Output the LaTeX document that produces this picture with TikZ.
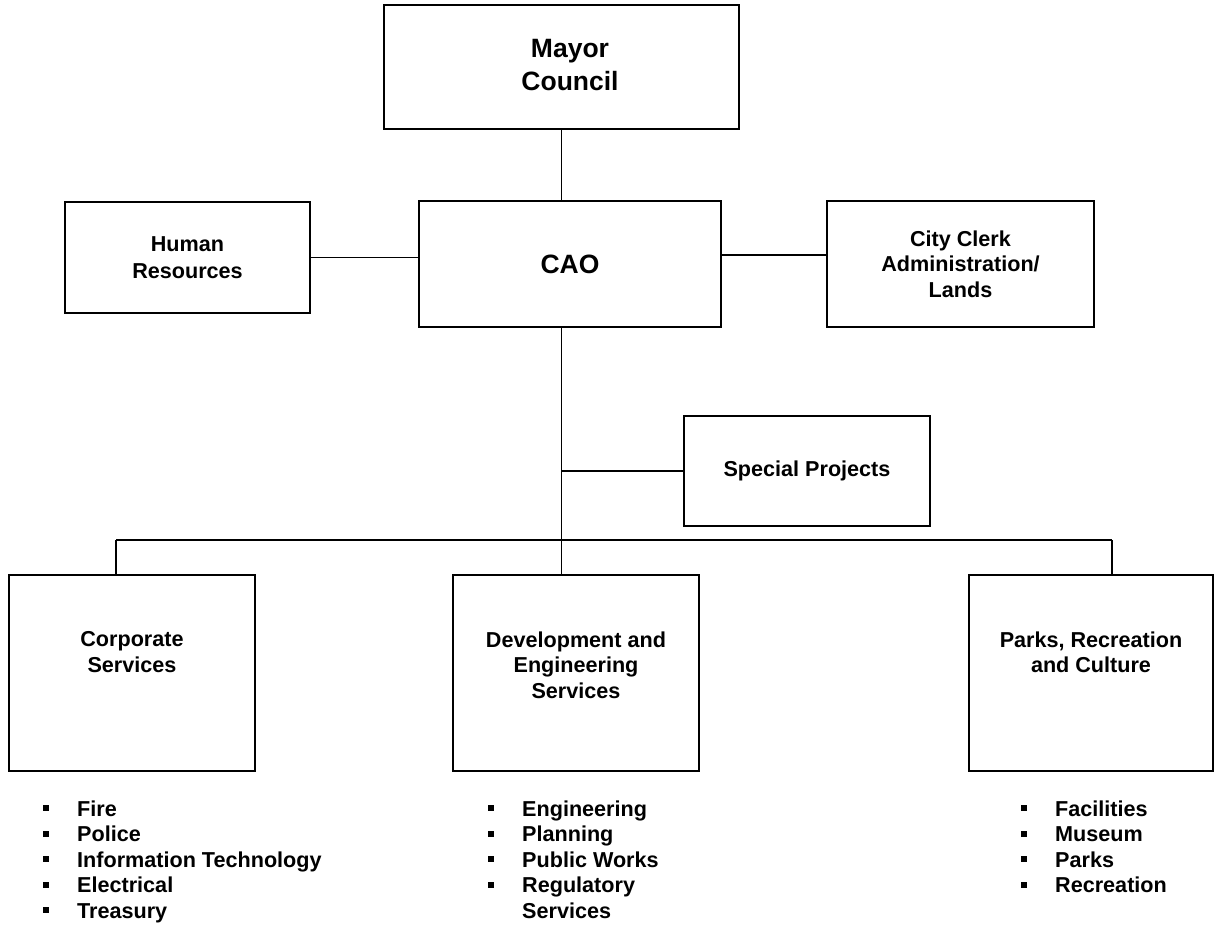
\documentclass[tikz,border=0pt]{standalone}
\usepackage{fontspec}
\setmainfont{Liberation Sans}
\usetikzlibrary{positioning}

\tikzset{
    orgbox/.style={draw, line width=1.4pt, inner sep=0pt, align=center,
        font=\bfseries\fontsize{21.6}{25.5}\selectfont},
    bigtext/.style={font=\bfseries\fontsize{26.5}{33}\selectfont},
    boxtext/.style={inner sep=0pt, align=center,
        font=\bfseries\fontsize{21.6}{25.5}\selectfont},
    sublist/.style={inner sep=0pt, anchor=base west,
        font=\bfseries\fontsize{21.6}{25.5}\selectfont},
    link/.style={line width=1.4pt}
}
\newcommand{\sqbullet}{\rule[4.7pt]{6pt}{6pt}}

\begin{document}
\begin{tikzpicture}[x=1pt, y=-1pt]

    \useasboundingbox (0,0) rectangle (1214,924);

    % ==========================================
    % TOP: Mayor, CAO and staff boxes
    % ==========================================
    \node[orgbox, minimum width=355pt, minimum height=124pt] (mayor) at (561.5,67) {};
    \node[boxtext, bigtext] (mayortext) at (570,65) {Mayor\\Council};
    \node[orgbox, bigtext, minimum width=302pt, minimum height=126pt] (cao) at (570,264) {CAO};
    \node[orgbox, minimum width=245pt, minimum height=111pt] (hr) at (187.5,257.5) {Human\\[1.5pt]Resources};
    \node[orgbox, minimum width=267pt, minimum height=126pt] (clerk) at (960.5,264) {City Clerk\\Administration/\\Lands};
    \node[orgbox, minimum width=246pt, minimum height=110pt] (special) at (807,471) {Special Projects};

    % Links to the CAO
    \draw[link] (mayor.south) -- (mayor.south |- cao.north);
    \draw[link] (hr.east) -- (hr.east -| cao.west);
    \draw[link] ([yshift=9pt]clerk.west) -- ([yshift=9pt]clerk.west -| cao.east);

    % Trunk and branch line
    \coordinate (junction) at (561.5,540);
    \coordinate (leftend) at (116,540);
    \coordinate (rightend) at (1112,540);

    \draw[link] (mayor.south |- cao.south) -- (junction);
    \draw[link] (special.west) -- (special.west -| junction);
    \draw[link] (leftend) -- (rightend);

    % ==========================================
    % BOTTOM: the three departments
    % ==========================================
    \node[orgbox, minimum width=246pt, minimum height=196pt] (corp) at (132,673) {};
    \node[orgbox, minimum width=246pt, minimum height=196pt] (dev) at (576,673) {};
    \node[orgbox, minimum width=244pt, minimum height=196pt] (parks) at (1091,673) {};

    \node[boxtext, below=57pt of corp.north] (corptext) {Corporate\\Services};
    \node[boxtext, below=57pt of dev.north] (devtext) {Development and\\Engineering\\Services};
    \node[boxtext, below=57pt of parks.north] (parkstext) {Parks, Recreation\\and Culture};

    \draw[link] (leftend) -- (leftend |- corp.north);
    \draw[link] (junction) -- (junction |- dev.north);
    \draw[link] (rightend) -- (rightend |- parks.north);

    % Sections under each department
    \node[sublist] (corplist) at (43,816) {\begin{tabular}[t]{@{}l@{\hspace{28pt}}l@{}}
        \sqbullet & Fire\\
        \sqbullet & Police\\
        \sqbullet & Information Technology\\
        \sqbullet & Electrical\\
        \sqbullet & Treasury
    \end{tabular}};
    \node[sublist] (devlist) at (488,816) {\begin{tabular}[t]{@{}l@{\hspace{28pt}}l@{}}
        \sqbullet & Engineering\\
        \sqbullet & Planning\\
        \sqbullet & Public Works\\
        \sqbullet & Regulatory\\
                  & Services
    \end{tabular}};
    \node[sublist] (parkslist) at (1021,816) {\begin{tabular}[t]{@{}l@{\hspace{28pt}}l@{}}
        \sqbullet & Facilities\\
        \sqbullet & Museum\\
        \sqbullet & Parks\\
        \sqbullet & Recreation
    \end{tabular}};

\end{tikzpicture}
\end{document}
